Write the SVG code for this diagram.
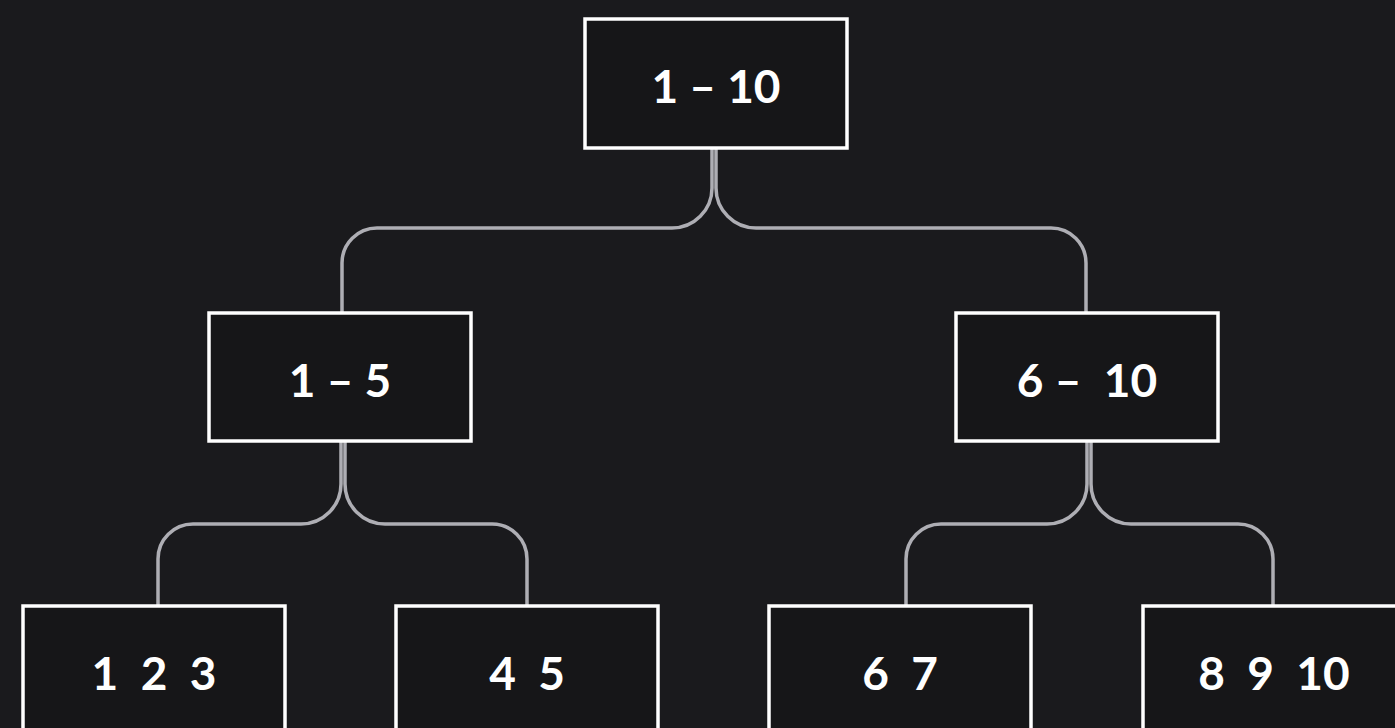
<svg xmlns="http://www.w3.org/2000/svg" width="1395" height="728" viewBox="0 0 1395 728">
<style>
.node rect{fill:#161618;stroke:#ffffff;stroke-width:3.5}
.node text{fill:#ffffff;font-family:Lato,"Open Sans",sans-serif;font-weight:bold;font-size:46px;text-anchor:middle;white-space:pre}
.conn path{fill:none;stroke:#aeaeb4;stroke-width:3.5}
</style>
<rect width="1395" height="728" fill="#1a1a1d"/>
<g class="conn">
<path d="M712 149 V188 A40 40 0 0 1 672 228 H377 A35 35 0 0 0 342 263 V313"/>
<path d="M716 149 V188 A40 40 0 0 0 756 228 H1051 A35 35 0 0 1 1086 263 V313"/>
<path d="M341 442 V484 A40 40 0 0 1 301 524 H193 A35 35 0 0 0 158 559 V606"/>
<path d="M345 442 V484 A40 40 0 0 0 385 524 H492 A35 35 0 0 1 527 559 V606"/>
<path d="M1087 442 V484 A40 40 0 0 1 1047 524 H941 A35 35 0 0 0 906 559 V606"/>
<path d="M1091 442 V484 A40 40 0 0 0 1131 524 H1238 A35 35 0 0 1 1273 559 V606"/>
</g>
<g id="n-1-10" class="node"><rect x="585" y="19" width="262" height="129"/><text x="716" y="103">1 – 10</text></g>
<g id="n-1-5" class="node"><rect x="209" y="313" width="262" height="128"/><text x="340" y="397">1 – 5</text></g>
<g id="n-6-10" class="node"><rect x="956" y="313" width="262" height="128"/><text x="1087" y="397">6 –  10</text></g>
<g id="n-123" class="node"><rect x="23" y="606" width="262" height="140"/><text x="154" y="690">1  2  3</text></g>
<g id="n-45" class="node"><rect x="396" y="606" width="262" height="140"/><text x="527" y="690">4  5</text></g>
<g id="n-67" class="node"><rect x="769" y="606" width="262" height="140"/><text x="900" y="690">6  7</text></g>
<g id="n-8910" class="node"><rect x="1143" y="606" width="262" height="140"/><text x="1274" y="690">8  9  10</text></g>
</svg>
